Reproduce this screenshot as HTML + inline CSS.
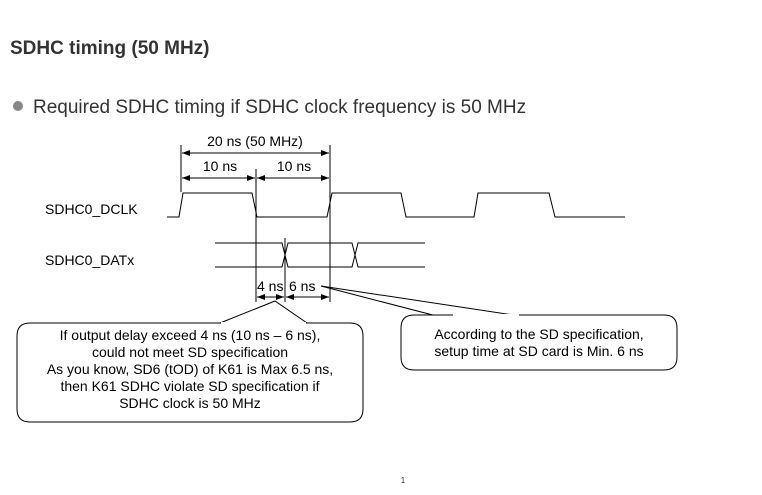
<!DOCTYPE html>
<html><head><meta charset="utf-8"><style>
body{margin:0;background:#fff;width:762px;height:490px;overflow:hidden;font-family:"Liberation Sans",sans-serif}
</style></head><body>
<svg width="762" height="490" xmlns="http://www.w3.org/2000/svg" font-family="Liberation Sans, sans-serif">
<defs>
<marker id="a" markerWidth="8" markerHeight="6" refX="8" refY="3" orient="auto" markerUnits="userSpaceOnUse"><path d="M0,0 L8,3 L0,6 z" fill="#000"/></marker>
<marker id="b" markerWidth="8" markerHeight="6" refX="0" refY="3" orient="auto" markerUnits="userSpaceOnUse"><path d="M8,0 L0,3 L8,6 z" fill="#000"/></marker>
</defs>
<text x="10" y="54" font-size="19" font-weight="bold" fill="#333">SDHC timing (50 MHz)</text>
<circle cx="18" cy="106" r="5" fill="#888"/>
<text x="33" y="113" font-size="19" fill="#333">Required SDHC timing if SDHC clock frequency is 50 MHz</text>
<g stroke="#000" stroke-width="1" fill="none">
<polyline points="167,217 179,217 183,193 252,193 257,217 327,217 332,193 401,193 406,217 474,217 478,193 549,193 555,217 625,217"/>
<line x1="181" y1="145" x2="181" y2="192"/>
<line x1="256" y1="169" x2="256" y2="302"/>
<line x1="330" y1="145" x2="330" y2="302"/>
<line x1="285" y1="238" x2="285" y2="302"/>
<line x1="182" y1="153" x2="329" y2="153" marker-start="url(#b)" marker-end="url(#a)"/>
<line x1="182" y1="178" x2="255" y2="178" marker-start="url(#b)" marker-end="url(#a)"/>
<line x1="257" y1="178" x2="329" y2="178" marker-start="url(#b)" marker-end="url(#a)"/>
<polyline points="215,243 282,243 288,267 352,267 358,243 425,243"/>
<polyline points="215,267 282,267 288,243 352,243 358,267 425,267"/>
<line x1="257" y1="297" x2="284" y2="297" marker-start="url(#b)" marker-end="url(#a)"/>
<line x1="286" y1="297" x2="329" y2="297" marker-start="url(#b)" marker-end="url(#a)"/>
<path d="M220,323 L275,301 L307,323"/>
<path d="M452,320 L321,286 L520,316"/>
</g>
<path d="M30,323 H350 Q363,323 363,336 V409 Q363,422 350,422 H30 Q17,422 17,409 V336 Q17,323 30,323 Z" fill="#fff" stroke="#000"/>
<path d="M414,315 H664 Q677,315 677,328 V357 Q677,370 664,370 H414 Q401,370 401,357 V328 Q401,315 414,315 Z" fill="#fff" stroke="#000"/>
<line x1="221" y1="323" x2="306" y2="323" stroke="#fff" stroke-width="2"/>
<line x1="453" y1="315" x2="519" y2="315" stroke="#fff" stroke-width="2"/>
<g font-size="14" fill="#000">
<text x="255" y="146" text-anchor="middle">20 ns (50 MHz)</text>
<text x="220" y="171" text-anchor="middle">10 ns</text>
<text x="294" y="171" text-anchor="middle">10 ns</text>
<text x="45" y="214">SDHC0_DCLK</text>
<text x="45" y="265">SDHC0_DATx</text>
<text x="257" y="291">4 ns</text>
<text x="289" y="291">6 ns</text>
<g text-anchor="middle">
<text x="190" y="340">If output delay exceed 4 ns (10 ns – 6 ns),</text>
<text x="190" y="357">could not meet SD specification</text>
<text x="190" y="374">As you know, SD6 (tOD) of K61 is Max 6.5 ns,</text>
<text x="190" y="391">then K61 SDHC violate SD specification if</text>
<text x="190" y="408">SDHC clock is 50 MHz</text>
<text x="539" y="339">According to the SD specification,</text>
<text x="539" y="356">setup time at SD card is Min. 6 ns</text>
</g>
</g>
<text x="403" y="483" font-size="8" text-anchor="middle" fill="#333">1</text>
</svg>
</body></html>
